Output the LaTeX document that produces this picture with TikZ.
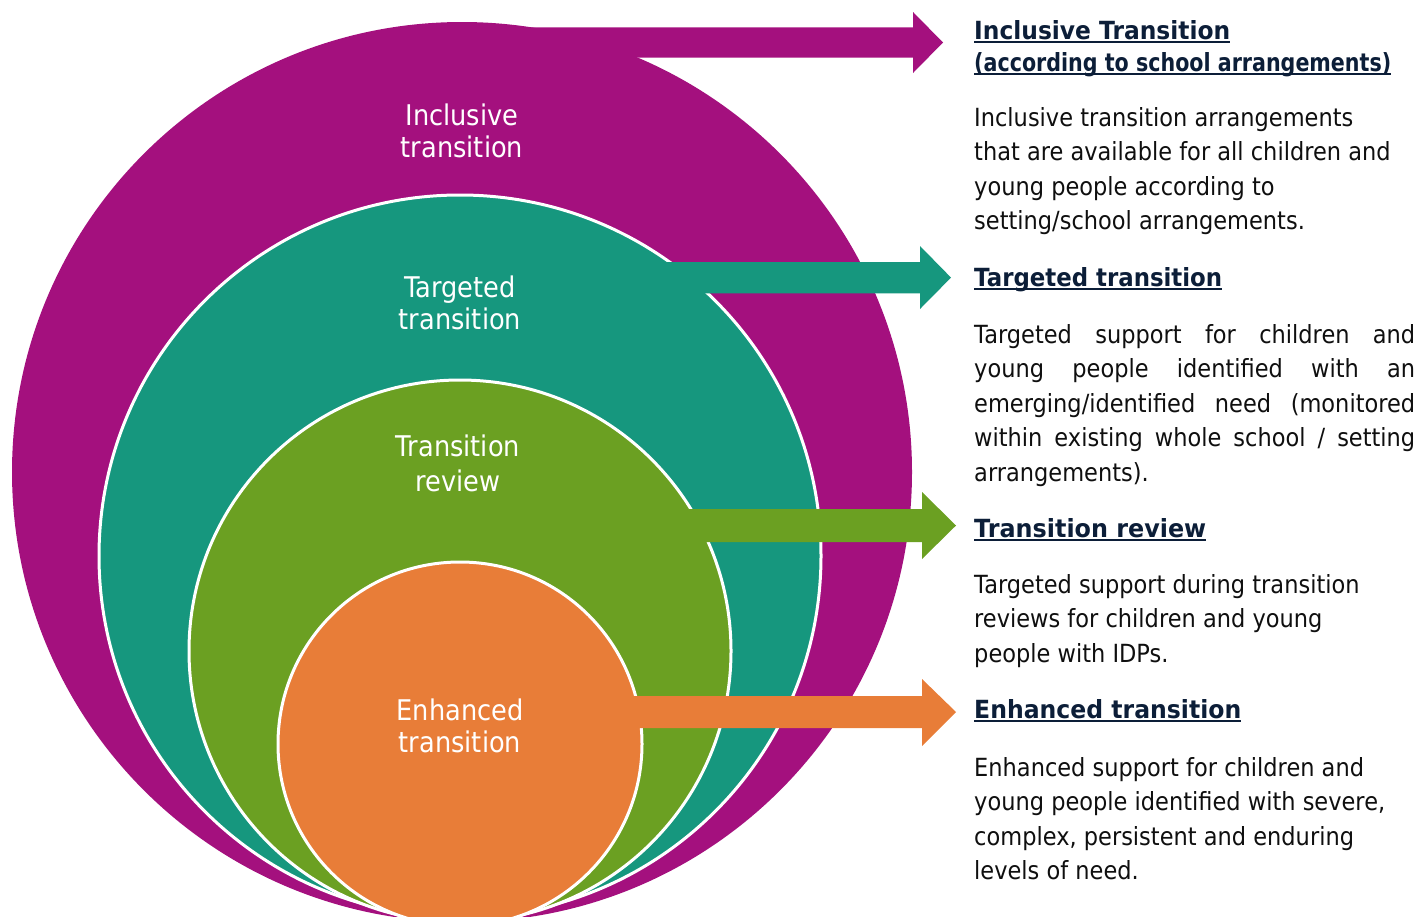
\documentclass[tikz,border=0pt]{standalone}
\usepackage{fontspec}
\usepackage{graphicx}
\setmainfont[FakeStretch=0.90]{DejaVu Sans}
\definecolor{cpurple}{RGB}{164,16,126}
\definecolor{cteal}{RGB}{22,151,126}
\definecolor{cgreen}{RGB}{107,160,34}
\definecolor{corange}{RGB}{232,125,56}
\definecolor{cnavy}{RGB}{12,30,56}
\definecolor{ctext}{RGB}{15,15,15}
\newcommand\jsp{\hskip 6pt plus 1fill\relax}
\newcommand\fitw[2]{\resizebox{#1}{\height}{#2}}
\begin{document}
\begin{tikzpicture}[x=1pt,y=-1pt,
  ring/.style={circle, inner sep=0pt, draw=white, line width=3pt},
  lbl/.style={inner sep=0pt, anchor=base, text=white, font=\fontsize{28.5}{32}\selectfont},
  headtxt/.style={inner sep=0pt, anchor=base west, text=cnavy, font=\bfseries\fontsize{25}{32}\selectfont},
  bodytxt/.style={inner sep=0pt, anchor=base west, text=ctext, font=\fontsize{25}{34.5}\selectfont},
  uline/.style={draw=cnavy, line width=2pt},
]
\useasboundingbox (0,0) rectangle (1420,916);
\begin{scope}
  \clip (0,0) rectangle (1420,916);
  \node[ring, fill=cpurple, draw=none, minimum size=900pt] (c1) at (462,472) {};
  \node[ring, fill=cteal, minimum size=722pt] (c2) at (460,556) {};
  \node[ring, fill=cgreen, minimum size=542pt] (c3) at (460,651) {};
  \node[ring, fill=corange, minimum size=364pt] (c4) at (460,744) {};
\end{scope}

% block arrows
\fill[cpurple] (530,27.3) -- (913,27.3) -- (913,12) -- (943,42.5) -- (913,73) -- (913,57.7) -- (530,57.7) -- cycle;
\fill[cteal] (600,262) -- (920,262) -- (920,246) -- (951,277.6) -- (920,309) -- (920,293.3) -- (600,293.3) -- cycle;
\fill[cgreen] (620,509) -- (922,509) -- (922,492) -- (956,525.5) -- (922,559) -- (922,542) -- (620,542) -- cycle;
\fill[corange] (560,696) -- (922,696) -- (922,679) -- (956,712) -- (922,746) -- (922,728) -- (560,728) -- cycle;

% circle labels
\node[lbl] (t1) at (462,125) {\parbox[t]{240pt}{\centering Inclusive\\transition}};
\node[lbl] (t2) at (460,297) {\parbox[t]{240pt}{\centering Targeted\\transition}};
\node[lbl, font=\fontsize{28.5}{35}\selectfont] (t3) at (458,456) {\parbox[t]{240pt}{\centering Transition\\review}};
\node[lbl] (t4) at (460,720) {\parbox[t]{240pt}{\centering Enhanced\\transition}};

% headings
\node[headtxt] (h1a) at (974,39) {\fitw{256pt}{Inclusive Transition}};
\node[headtxt] (h1b) at (974,71) {\fitw{417pt}{(according to school arrangements)}};
\node[headtxt] (h2) at (974,286) {\fitw{248pt}{Targeted transition}};
\node[headtxt] (h3) at (974,537) {\fitw{232pt}{Transition review}};
\node[headtxt] (h4) at (974,718) {\fitw{267pt}{Enhanced transition}};
\foreach \n in {h1a,h1b,h2,h3,h4}
  \draw[uline] ([yshift=-3pt]\n.base west) -- ([yshift=-3pt]\n.base east);

% body texts
\node[bodytxt] (b1) at (974,126) {\parbox[t]{446pt}{\raggedright Inclusive transition arrangements\\that are available for all children and\\young people according to\\setting/school arrangements.}};
\node[bodytxt] (b2) at (974,343) {\parbox[t]{441pt}{%
  \hbox to 441pt{Targeted\jsp support\jsp for\jsp children\jsp and}%
  \hbox to 441pt{young\jsp people\jsp identified\jsp with\jsp an}%
  \hbox to 441pt{emerging/identified\jsp need\jsp (monitored}%
  \hbox to 441pt{within\jsp existing\jsp whole\jsp school\jsp /\jsp setting}%
  \hbox{arrangements).}}};
\node[bodytxt] (b3) at (974,593) {\parbox[t]{446pt}{\raggedright Targeted support during transition\\reviews for children and young\\people with IDPs.}};
\node[bodytxt] (b4) at (974,776) {\parbox[t]{446pt}{\raggedright Enhanced support for children and\\young people identified with severe,\\complex, persistent and enduring\\levels of need.}};
\end{tikzpicture}
\end{document}
